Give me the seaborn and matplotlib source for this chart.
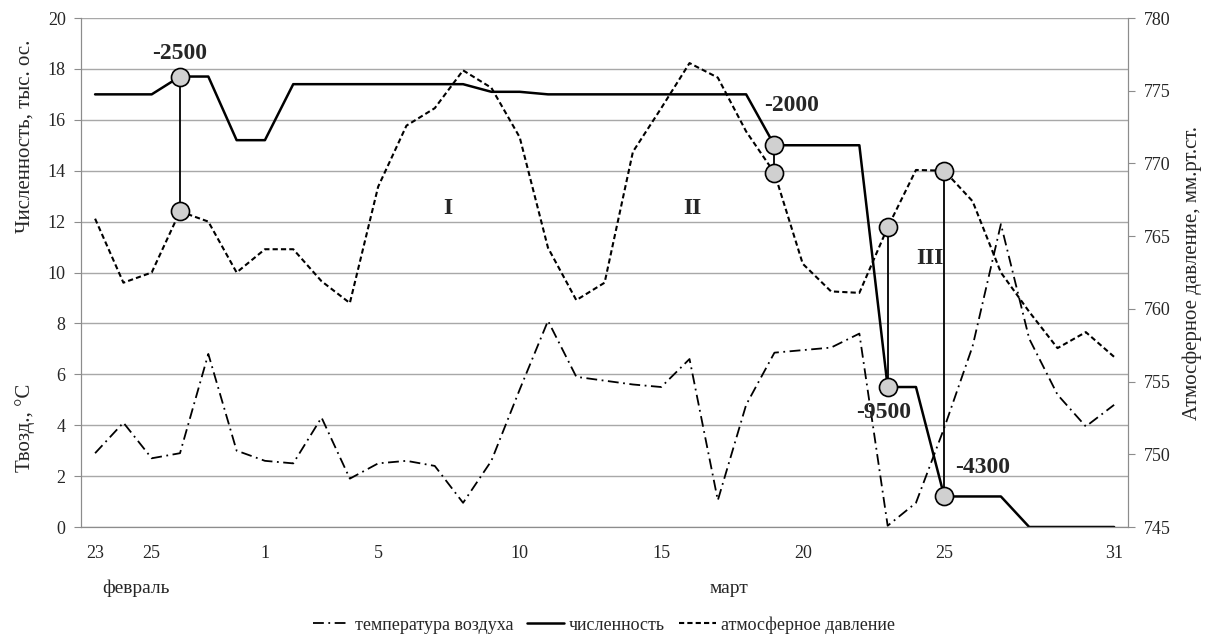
import matplotlib
matplotlib.use('Agg')
import matplotlib.pyplot as plt
import matplotlib.transforms as mtransforms
from matplotlib.lines import Line2D
import numpy as np
import pandas as pd
import seaborn as sns

# Data: 23 Feb .. 31 Mar (37 days)
days = [23, 24, 25, 26, 27, 28] + list(range(1, 32))
tick_pos = [0, 2, 6, 10, 15, 20, 25, 30, 36]
tick_labels = ['23', '25', '1', '5', '10', '15', '20', '25', '31']

temperature = [2.9, 4.1, 2.7, 2.9, 6.8, 3.0, 2.6, 2.5, 4.3, 1.9,
               2.5, 2.6, 2.4, 0.95, 2.6, 5.4, 8.1, 5.9, 5.75, 5.6,
               5.5, 6.6, 1.05, 4.8, 6.85, 6.95, 7.05, 7.6, 0.05, 0.95,
               3.9, 7.1, 11.9, 7.4, 5.2, 3.95, 4.8]
population = [17.0, 17.0, 17.0, 17.7, 17.7, 15.2, 15.2, 17.4, 17.4, 17.4,
              17.4, 17.4, 17.4, 17.4, 17.1, 17.1, 17.0, 17.0, 17.0, 17.0,
              17.0, 17.0, 17.0, 17.0, 15.0, 15.0, 15.0, 15.0, 5.5, 5.5,
              1.2, 1.2, 1.2, 0.0, 0.0, 0.0, 0.0]
pressure = [766.2, 761.8, 762.5, 766.7, 766.0, 762.5, 764.1, 764.1, 761.9, 760.4,
            768.4, 772.6, 773.8, 776.4, 775.2, 771.8, 764.2, 760.6, 761.8, 770.8,
            773.8, 776.9, 775.9, 772.2, 769.35, 763.1, 761.2, 761.1, 765.6, 769.55,
            769.5, 767.4, 762.5, 759.8, 757.3, 758.4, 756.7]

event_idx = [3, 24, 28, 30]
event_text = ['-2500', '-2000', '-9500', '-4300']
event_text_pos = [(3.0, 18.6), (24.6, 16.55), (27.85, 4.5), (31.35, 2.35)]
phase_text = ['I', 'II', 'III']
phase_pos = [(12.45, 12.5), (21.1, 12.5), (29.5, 10.55)]

df = pd.DataFrame({'idx': range(len(days)), 'day': days,
                   'temp': temperature, 'pop': population, 'pres': pressure})

sns.set_style('white')
plt.rcParams['font.family'] = ['Liberation Serif', 'DejaVu Serif']

temp_ls = (0, (6, 2.5, 1, 2.5))
pres_ls = (0, (2.5, 1.5))
grey = '#8c8c8c'

fig = plt.figure(figsize=(12.08, 6.43), dpi=100)
ax = fig.add_axes([0.067, 0.1804, 0.867, 0.7916])
ax2 = ax.twinx()

sns.lineplot(data=df, x='idx', y='temp', ax=ax, color='black', lw=1.3, linestyle=temp_ls)
sns.lineplot(data=df, x='idx', y='pop', ax=ax, color='black', lw=1.8)
sns.lineplot(data=df, x='idx', y='pres', ax=ax2, color='black', lw=1.5, linestyle=pres_ls)

ax.set_xlim(-0.5, 36.5)
ax.set_ylim(0, 20)
ax2.set_ylim(745, 780)
ax.set_yticks(range(0, 21, 2))
ax2.set_yticks(range(745, 781, 5))
ax.grid(axis='y', color='#a8a8a8', lw=1)
ax.grid(axis='x', visible=False)
ax.set_axisbelow(True)

ax.set_xticks(tick_pos, tick_labels)
ax.set_xticks(np.arange(-0.5, 37, 1), minor=True)
ax.tick_params(axis='x', which='major', length=0, pad=13, labelsize=13)
ax.tick_params(axis='x', which='minor', length=5, color=grey, direction='out')
ax.tick_params(axis='y', length=5, color=grey, direction='out', pad=6, labelsize=13, left=True)
ax2.tick_params(axis='y', length=5, color=grey, direction='out', pad=6, labelsize=13, right=True)

for a in (ax, ax2):
    a.spines['top'].set_visible(False)
    for s in ('left', 'right', 'bottom'):
        a.spines[s].set_color(grey)
ax.set_xlabel('')
ax.set_ylabel('')
ax2.set_ylabel('Атмосферное давление, мм.рт.ст.', fontsize=15, labelpad=9)

# circles and connectors at the events (population mapped onto the pressure axis)
def to_right(v):
    return ax2.transData.inverted().transform(ax.transData.transform((0, v)))[1]

for i in event_idx:
    p_top = pressure[i]
    n_val = to_right(population[i])
    ax2.vlines(i, min(p_top, n_val), max(p_top, n_val), color='black', lw=1.3, zorder=4)
    ax2.plot([i, i], [p_top, n_val], 'o', ms=13, mfc='#d0d0d0', mec='black', mew=1.2,
             ls='none', zorder=5)

for s, (x, y) in zip(event_text, event_text_pos):
    ax.text(x, y, s, fontsize=17, fontweight='bold', ha='center', va='center')
for s, (x, y) in zip(phase_text, phase_pos):
    ax.text(x, y, s, fontsize=17, fontweight='bold', ha='center', va='center')

trans = mtransforms.blended_transform_factory(ax.transData, ax.transAxes)
ax.text(1.45, -0.12, 'февраль', transform=trans, fontsize=14, ha='center', va='center')
ax.text(22.4, -0.12, 'март', transform=trans, fontsize=14, ha='center', va='center')

fig.text(0.0207, 1 - 136 / 643, 'Численность, тыс. ос.', rotation=90,
         ha='center', va='center', fontsize=15)
fig.text(0.0207, 1 - 428 / 643, 'Твозд., °C', rotation=90,
         ha='center', va='center', fontsize=15)

handles = [Line2D([], [], color='black', lw=1.3, linestyle=temp_ls),
           Line2D([], [], color='black', lw=1.8),
           Line2D([], [], color='black', lw=1.5, linestyle=pres_ls)]
fig.legend(handles, ['температура воздуха', 'численность', 'атмосферное давление'],
           loc='center', bbox_to_anchor=(0.5, 0.028), ncol=3, frameon=False,
           fontsize=13, handlelength=2.0, handletextpad=0.3, columnspacing=0.8)

fig.savefig('out.png', dpi=100)
